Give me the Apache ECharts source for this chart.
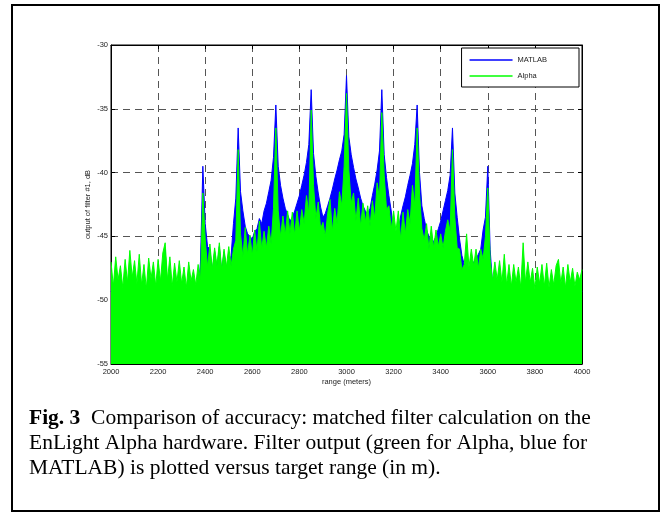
<!DOCTYPE html>
<html>
<head>
<meta charset="utf-8">
<script src="https://cdn.jsdelivr.net/npm/echarts@6/dist/echarts.min.js"></script>
<style>
html,body{margin:0;padding:0;background:#fff;}
#c{width:661px;height:512px;}
</style>
</head>
<body>
<div id="c"></div>
<script>
// Range samples (m), every 10 m from 2000 to 4000
const rangeStart = 2000, rangeStep = 10;
// MATLAB filter output (dB), upper envelope
const matlabDb = [
-49.3,-49.5,-49.2,-49.4,-49.6,-49.3,-49.5,-49.4,-49.2,-49.6,
-49.4,-49.2,-49.5,-49.3,-49.6,-49.4,-49.2,-49.5,-49.3,-49.6,
-49.2,-49.5,-49.3,-46.0,-49.4,-49.6,-49.2,-49.5,-49.3,-49.4,
-49.5,-49.2,-49.6,-49.3,-49.4,-49.5,-49.2,-49.6,-47.0,-39.5,
-44.0,-45.8,-46.0,-47.8,-46.2,-47.6,-45.8,-47.8,-46.2,-47.6,
-47.5,-46.5,-44.0,-42.0,-36.5,-41.5,-43.0,-44.2,-44.8,-45.0,
-45.2,-44.6,-44.4,-43.6,-44.0,-43.0,-42.4,-41.5,-40.6,-38.8,
-34.7,-39.5,-41.0,-42.0,-42.8,-43.3,-43.8,-43.5,-43.0,-42.4,
-41.8,-41.0,-40.2,-39.2,-37.8,-33.5,-38.5,-40.3,-41.6,-42.7,
-43.5,-43.2,-42.6,-42.0,-41.3,-40.5,-39.8,-39.0,-38.3,-37.0,
-32.4,-37.2,-38.6,-39.6,-40.5,-41.2,-42.0,-42.6,-43.0,-43.3,
-42.8,-41.8,-40.9,-39.8,-38.3,-33.5,-38.6,-40.4,-41.8,-43.0,
-45.0,-45.6,-44.6,-43.4,-42.6,-41.9,-41.0,-40.2,-39.3,-37.8,
-34.7,-40.0,-42.6,-43.6,-44.5,-45.0,-45.2,-45.4,-45.0,-44.4,
-43.8,-43.0,-42.2,-41.4,-40.2,-36.5,-41.6,-43.5,-45.2,-46.5,
-47.2,-47.3,-47.5,-47.4,-47.0,-46.8,-46.4,-46.0,-44.5,-43.5,
-39.5,-46.0,-48.7,-48.5,-48.8,-48.6,-48.9,-48.7,-49.0,-48.8,
-49.2,-49.4,-49.0,-49.3,-49.3,-49.5,-49.0,-49.4,-49.1,-49.3,
-49.4,-49.2,-49.0,-49.5,-49.2,-49.4,-49.3,-49.1,-49.2,-49.5,
-49.3,-49.0,-49.4,-49.3,-49.5,-49.1,-49.4,-49.2,-49.5,-49.0,
-49.3
];
// Alpha hardware filter output (dB), upper envelope
const alphaDb = [
-47.0,-48.9,-46.6,-48.4,-47.3,-49.0,-46.8,-48.6,-46.1,-48.2,
-46.9,-48.7,-46.4,-48.8,-47.2,-49.1,-46.7,-48.3,-47.0,-48.9,
-46.8,-48.5,-46.3,-45.5,-48.4,-46.6,-48.9,-47.1,-48.6,-46.9,
-48.7,-47.4,-49.0,-47.0,-48.5,-47.6,-48.8,-47.2,-48.4,-41.6,
-45.2,-47.4,-45.6,-47.6,-45.9,-47.3,-45.5,-47.6,-46.0,-47.4,
-45.8,-47.3,-46.0,-45.3,-38.2,-44.8,-46.6,-44.3,-46.4,-44.9,
-46.5,-44.5,-46.2,-43.8,-46.0,-44.6,-45.9,-44.2,-45.6,-42.8,
-36.5,-43.0,-45.0,-43.4,-44.9,-43.0,-44.8,-43.1,-44.9,-43.0,
-44.6,-42.9,-44.0,-41.8,-43.2,-35.1,-41.0,-43.6,-42.3,-44.4,
-43.9,-45.0,-43.2,-42.1,-44.6,-42.8,-44.0,-41.5,-42.6,-39.5,
-33.8,-39.8,-42.4,-41.6,-43.8,-42.0,-44.2,-42.4,-43.9,-42.6,
-44.2,-42.2,-43.6,-40.8,-42.0,-35.3,-40.2,-42.9,-42.6,-44.4,
-43.0,-44.6,-43.0,-45.2,-43.1,-44.8,-42.9,-44.0,-41.0,-42.6,
-36.5,-41.6,-44.4,-45.3,-44.0,-46.0,-44.2,-45.9,-44.5,-45.8,
-44.8,-45.9,-44.6,-43.7,-44.6,-38.2,-43.5,-45.9,-46.0,-47.6,
-47.2,-44.8,-47.4,-46.0,-47.3,-46.0,-47.5,-46.0,-46.8,-45.0,
-41.2,-46.8,-48.5,-47.0,-48.4,-46.9,-48.6,-46.4,-48.8,-47.2,
-48.9,-47.2,-48.6,-47.4,-49.0,-45.5,-48.6,-47.0,-48.6,-47.5,
-49.1,-47.4,-48.7,-47.2,-48.9,-47.1,-49.0,-47.6,-48.8,-47.3,
-46.8,-48.7,-47.4,-49.0,-47.2,-48.6,-47.5,-48.9,-47.8,-48.4,
-47.6
];
const xTicks = [2000, 4000, 200];   // min, max, interval
const yTicks = [-55, -30, 5];       // min, max, interval
const seriesNames = ['MATLAB', 'Alpha'];
const seriesColors = ['#0000ff', '#00ff00'];
const xName = 'range (meters)';
const yName = 'output of filter #1, dB';
const captionBold = 'Fig. 3';
const captionLines = [
  '  Comparison of accuracy: matched filter calculation on the',
  'EnLight Alpha hardware. Filter output (green for Alpha, blue for',
  'MATLAB) is plotted versus target range (in m).'
];

function pairs(vals){ return vals.map((v,i)=>[rangeStart + i*rangeStep, v]); }

const axisFont = {fontFamily:'Liberation Sans', fontSize:7.5, color:'#222'};
const grid = {left:111, top:45, width:471, height:319, show:true, borderColor:'#000', borderWidth:1, backgroundColor:'#fff'};
const splitStyle = {show:true, lineStyle:{type:[7,5], color:'#555', width:1}};

function xAx(pos, main){
  return {type:'value', position:pos, min:xTicks[0], max:xTicks[1], interval:xTicks[2],
    name: main ? xName : '', nameLocation:'middle', nameGap:14, nameMoveOverlap:false, nameTextStyle:axisFont,
    axisLine:{show:true, onZero:false, lineStyle:{color:'#000', width:1}},
    axisTick:{show:true, inside:true, length:4, lineStyle:{color:'#000'}},
    axisLabel:{show:main, margin:4, formatter:v=>String(v), ...axisFont},
    splitLine: main ? splitStyle : {show:false}};
}
function yAx(pos, main){
  return {type:'value', position:pos, min:yTicks[0], max:yTicks[1], interval:yTicks[2],
    name: main ? yName : '', nameLocation:'middle', nameGap:19, nameMoveOverlap:false, nameTextStyle:axisFont,
    axisLine:{show:true, onZero:false, lineStyle:{color:'#000', width:1}},
    axisTick:{show:true, inside:true, length:4, lineStyle:{color:'#000'}},
    axisLabel:{show:main, margin:3, formatter:v=>String(v), ...axisFont},
    splitLine: main ? splitStyle : {show:false}};
}

const chart = echarts.init(document.getElementById('c'), null, {renderer:'canvas'});
chart.setOption({
  animation:false,
  backgroundColor:'#fff',
  grid: grid,
  xAxis:[xAx('bottom', true), xAx('top', false)],
  yAxis:[yAx('left', true), yAx('right', false)],
  legend:{
    data:seriesNames, orient:'vertical', top:48, right:82,
    backgroundColor:'#fff', borderColor:'#000', borderWidth:1,
    padding:[8,32,7,8], itemGap:8, itemWidth:43, itemHeight:1.5, icon:'rect',
    textStyle:{fontFamily:'Liberation Sans', fontSize:7.5, color:'#222'}
  },
  series:[
    {name:seriesNames[0], type:'line', data:pairs(matlabDb), showSymbol:false, symbol:'none',
     lineStyle:{color:seriesColors[0], width:1}, itemStyle:{color:seriesColors[0]},
     areaStyle:{color:seriesColors[0], opacity:1, origin:'start'}, z:2},
    {name:seriesNames[1], type:'line', data:pairs(alphaDb), showSymbol:false, symbol:'none',
     lineStyle:{color:seriesColors[1], width:1}, itemStyle:{color:seriesColors[1]},
     areaStyle:{color:seriesColors[1], opacity:1, origin:'start'}, z:3}
  ],
  graphic:[
    {type:'rect', shape:{x:12, y:5, width:647, height:506}, style:{fill:null, stroke:'#000', lineWidth:2}, silent:true, z:10},
    {type:'text', left:29, top:406, style:{
      text:'{b|' + captionBold + '}' + captionLines[0] + '\n' + captionLines[1] + '\n' + captionLines[2],
      fontFamily:'Liberation Serif', fontSize:21.5, lineHeight:25, fill:'#000',
      rich:{b:{fontFamily:'Liberation Serif', fontSize:21.5, fontWeight:'bold', lineHeight:25}}
    }, z:10}
  ]
});
</script>
</body>
</html>
